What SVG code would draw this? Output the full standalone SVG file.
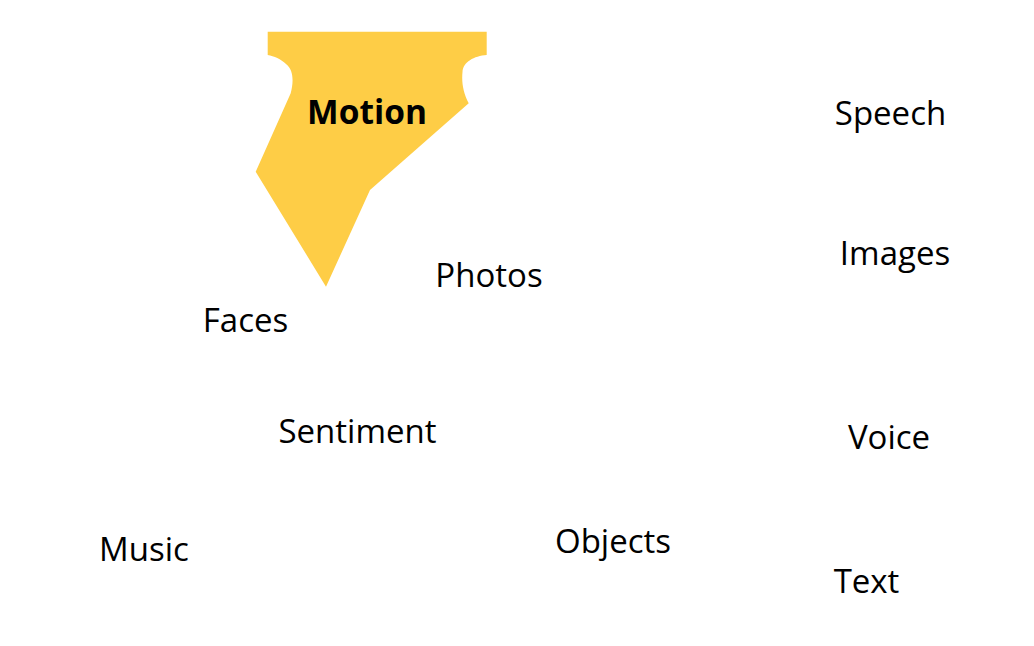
<svg xmlns="http://www.w3.org/2000/svg" width="1034" height="646" viewBox="0 0 1034 646">
<style>
.lbl{font-family:"Open Sans","Liberation Sans",sans-serif;font-size:33px;fill:#000;text-anchor:middle}
.bold{font-weight:bold;font-size:33.5px}
</style>
<rect width="1034" height="646" fill="#fff"/>
<g id="motion">
<path d="M267.7,31.7 L486.7,31.7 L486.7,55 C474,56 463,62 462.5,72 C461.5,82 463,92 468.7,103.3 L370,190 L326,286.7 L255.7,171.7 L290.7,93.3 C293.5,83 294,70 286,64 C281,59 274,56 267.7,55 Z" fill="#FECD46"/>
<text class="lbl bold" x="367" y="124">Motion</text>
</g>
<g id="speech"><text class="lbl" x="890.5" y="125">Speech</text></g>
<g id="images"><text class="lbl" x="895" y="265">Images</text></g>
<g id="photos"><text class="lbl" x="489" y="287">Photos</text></g>
<g id="faces"><text class="lbl" x="245.5" y="332">Faces</text></g>
<g id="sentiment"><text class="lbl" x="357.5" y="443">Sentiment</text></g>
<g id="voice"><text class="lbl" x="889" y="449">Voice</text></g>
<g id="music"><text class="lbl" x="144" y="561">Music</text></g>
<g id="objects"><text class="lbl" x="613" y="553">Objects</text></g>
<g id="text"><text class="lbl" x="866.5" y="593">Text</text></g>
<g id="connectors"></g>
</svg>
